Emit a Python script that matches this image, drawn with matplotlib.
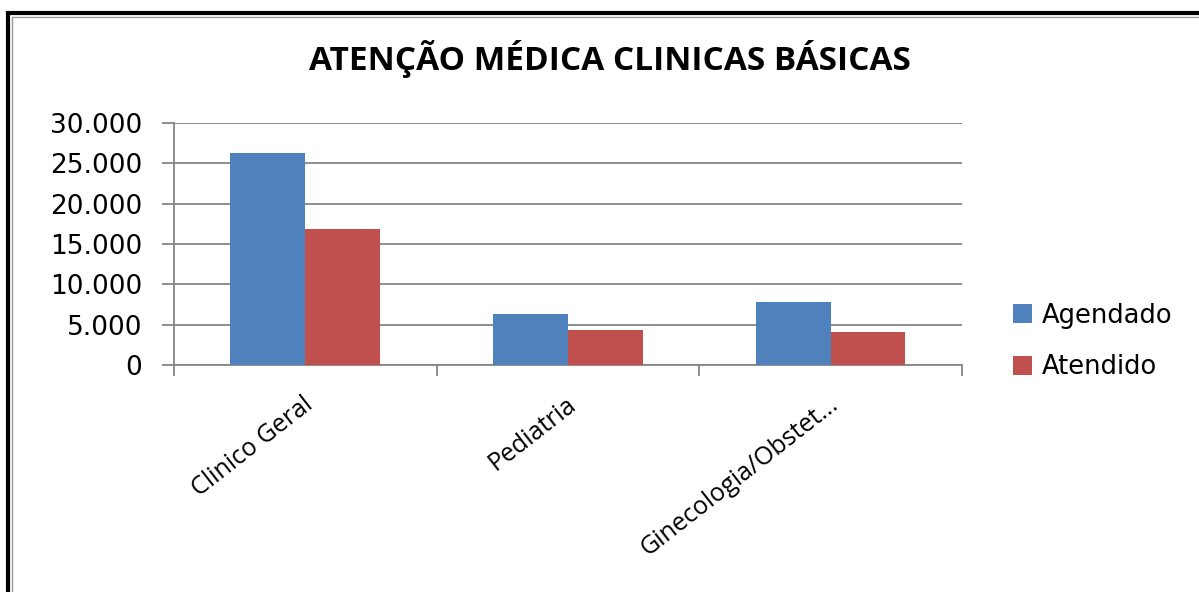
import numpy as np
import matplotlib.pyplot as plt
from matplotlib.patches import Rectangle
from matplotlib.ticker import FuncFormatter

# data
categorias = ["Clinico Geral", "Pediatria", "Ginecologia/Obstet..."]
agendado = [26300, 6300, 7800]
atendido = [16900, 4350, 4100]
series_labels = ["Agendado", "Atendido"]

azul = "#4F81BD"
vermelho = "#C0504D"
cinza = "#868686"

fig = plt.figure(figsize=(11.99, 5.92), dpi=100)
ax = fig.add_axes([0.1451, 0.3834, 0.6572, 0.4088])

x = np.arange(len(categorias))
w = 0.285
ax.bar(x - w / 2, agendado, w, color=azul, label=series_labels[0], zorder=3)
ax.bar(x + w / 2, atendido, w, color=vermelho, label=series_labels[1], zorder=3)

ax.set_xlim(-0.5, len(categorias) - 0.5)
ax.set_ylim(0, 30000)
ax.set_yticks(np.arange(0, 30001, 5000))
ax.yaxis.set_major_formatter(FuncFormatter(lambda v, p: f"{int(v):,}".replace(",", ".")))
ax.grid(axis="y", color=cinza, linewidth=1.3, zorder=0)

# category boundary ticks on x axis
ax.set_xticks(np.arange(-0.5, len(categorias), 1.0))
ax.set_xticklabels([])
ax.tick_params(axis="x", length=8, width=1.3, color=cinza)
ax.tick_params(axis="y", length=9, width=1.3, color=cinza, pad=14,
               labelsize=19, labelcolor="black")
for lbl in ax.get_yticklabels():
    lbl.set_family("DejaVu Sans")

for i, c in enumerate(categorias):
    ax.text(i - 0.01, -3300, c, rotation=38, ha="right", va="top",
            rotation_mode="anchor", fontsize=18, family="Open Sans",
            transform=ax.transData)

for s in ["top", "right"]:
    ax.spines[s].set_visible(False)
for s in ["left", "bottom"]:
    ax.spines[s].set_color(cinza)
    ax.spines[s].set_linewidth(1.3)

fig.text(0.509, 0.9, "ATENÇÃO MÉDICA CLINICAS BÁSICAS", ha="center", va="center",
         fontsize=24, fontweight="bold", family="Open Sans")

leg = fig.legend(loc="center left", bbox_to_anchor=(0.836, 0.423), frameon=False,
                 fontsize=18.5, handlelength=0.75, handleheight=0.75, labelspacing=1.0,
                 handletextpad=0.4, borderaxespad=0)

# outer chart frame (cut off at right/bottom like the reference)
fig.patches.append(Rectangle((8 / 1199, -0.1), 1.1, (592 - 13) / 592 + 0.1,
                             transform=fig.transFigure, fill=False,
                             edgecolor="black", linewidth=3, zorder=10))
fig.patches.append(Rectangle((12 / 1199, -0.1), 1.1, (592 - 17) / 592 + 0.1,
                             transform=fig.transFigure, fill=False,
                             edgecolor="#999999", linewidth=1, zorder=10))

fig.savefig("out.png", dpi=100)
